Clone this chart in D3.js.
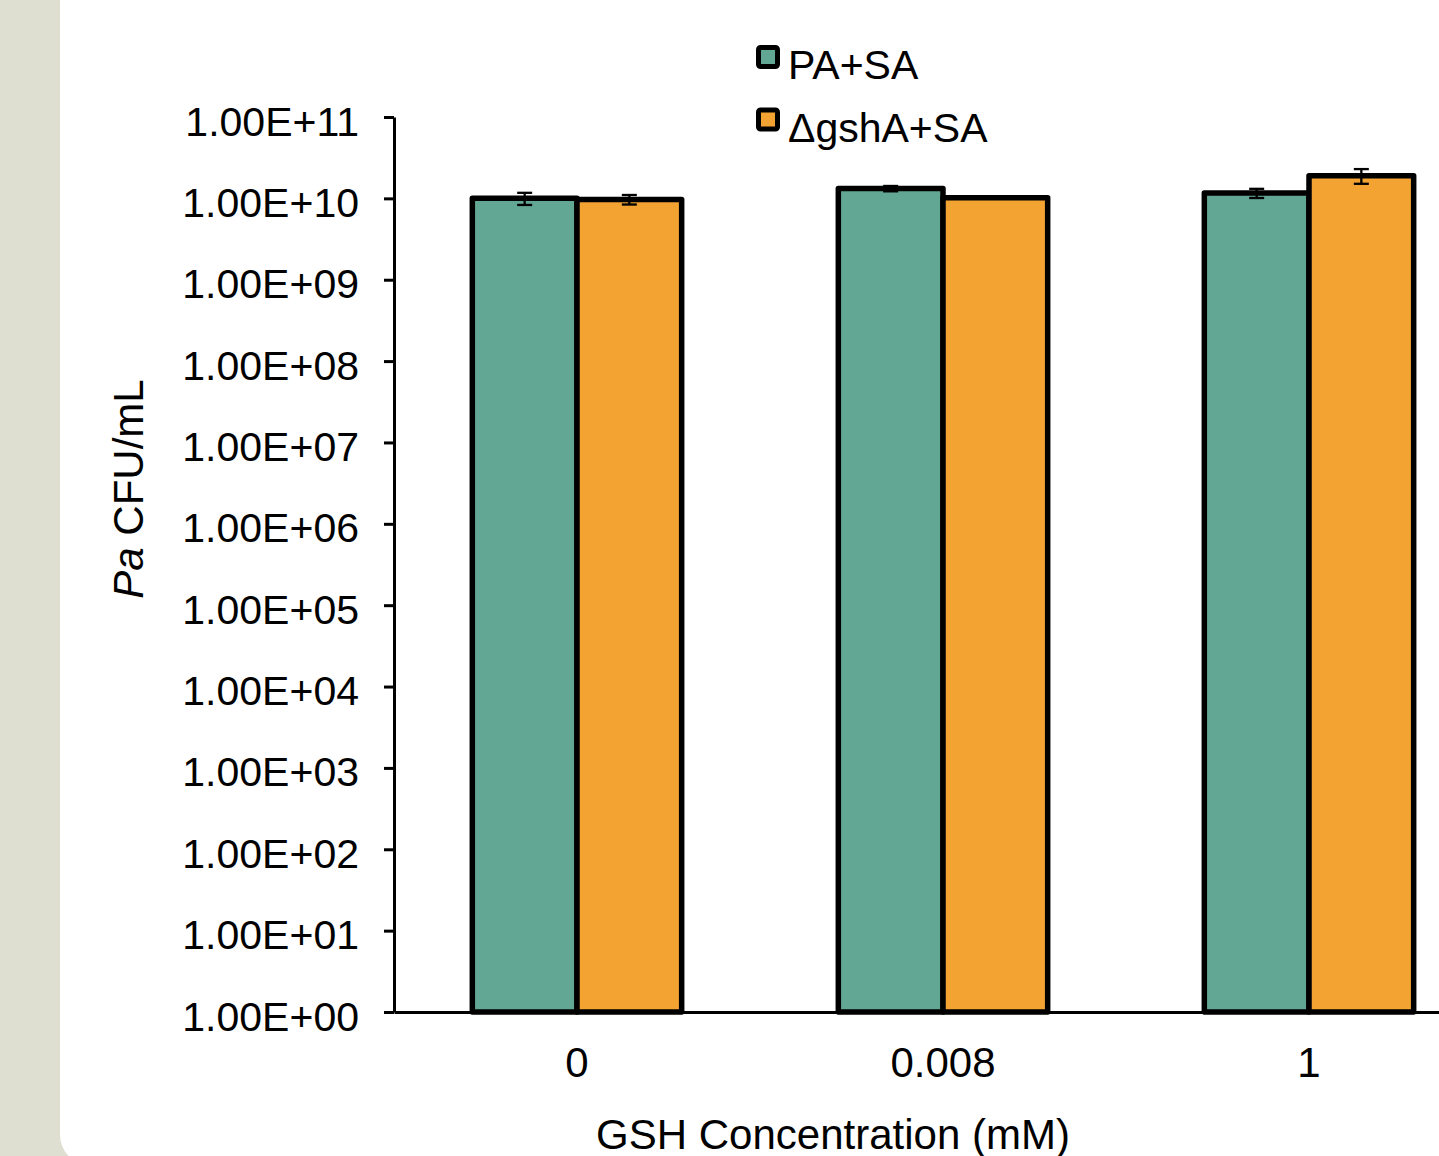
<!DOCTYPE html>
<html>
<head>
<meta charset="utf-8">
<script src="https://cdn.jsdelivr.net/npm/d3@7"></script>
<style>
  html, body { margin: 0; padding: 0; background: #dedfd0; }
  svg { display: block; font-family: "Liberation Sans", Arial, sans-serif; }
</style>
</head>
<body>
<div id="chart"></div>
<script>
// data
const categories = ['0', '0.008', '1'];
const seriesNames = ['PA+SA', '\u0394gshA+SA'];
const seriesColors = ['#61a794', '#f3a332'];
const paValues = [1.0e10, 1.32e10, 1.16e10];
const paErrors = [1.7e9, 1.0e9, 1.5e9];
const gshAValues = [9.7e9, 1.02e10, 1.9e10];
const gshAErrors = [1.3e9, 0.2e9, 3.9e9];
const yTicks = [1, 1e1, 1e2, 1e3, 1e4, 1e5, 1e6, 1e7, 1e8, 1e9, 1e10, 1e11];
const yTickLabels = ['1.00E+00', '1.00E+01', '1.00E+02', '1.00E+03', '1.00E+04', '1.00E+05',
  '1.00E+06', '1.00E+07', '1.00E+08', '1.00E+09', '1.00E+10', '1.00E+11'];

const W = 1439, H = 1156;
const axisX = 394, axisBottom = 1012, axisTop = 117;
const fontFam = '"Liberation Sans", Arial, sans-serif';

const svg = d3.select('#chart').append('svg')
  .attr('width', W)
  .attr('height', H);

// white panel with rounded corner over the grey page
svg.append('rect')
  .attr('x', 60).attr('y', -60)
  .attr('width', W + 60).attr('height', 1225)
  .attr('rx', 30)
  .attr('fill', '#fff');

const x = d3.scaleBand()
  .domain(categories)
  .range([axisX, axisX + 3 * 366])
  .paddingInner(0.428)
  .paddingOuter(0.214);

const xs = d3.scaleBand()
  .domain(seriesNames)
  .range([0, x.bandwidth()]);

const y = d3.scaleLog()
  .domain([1, 1e11])
  .range([axisBottom, axisTop]);

const rows = [];
categories.forEach((c, i) => {
  rows.push({ cat: c, s: seriesNames[0], v: paValues[i], e: paErrors[i], color: seriesColors[0] });
  rows.push({ cat: c, s: seriesNames[1], v: gshAValues[i], e: gshAErrors[i], color: seriesColors[1] });
});

// y axis
const yAxis = d3.axisLeft(y)
  .tickValues(yTicks)
  .tickFormat((d, i) => yTickLabels[i])
  .tickSize(10)
  .tickSizeOuter(0)
  .tickPadding(25);

const gy = svg.append('g')
  .attr('transform', `translate(${axisX},0)`)
  .call(yAxis);
gy.select('.domain').attr('stroke', '#000').attr('stroke-width', 3);
gy.selectAll('.tick line').attr('stroke', '#000').attr('stroke-width', 3);
gy.selectAll('.tick text')
  .attr('font-size', 41)
  .attr('font-family', fontFam)
  .attr('fill', '#000')
  .attr('dy', 18);

// bars
svg.append('g')
  .selectAll('rect')
  .data(rows)
  .enter().append('rect')
  .attr('x', d => x(d.cat) + xs(d.s))
  .attr('y', d => y(d.v))
  .attr('width', xs.bandwidth())
  .attr('height', d => axisBottom - y(d.v))
  .attr('fill', d => d.color)
  .attr('stroke', '#000')
  .attr('stroke-width', 5.5)
  .attr('stroke-linejoin', 'round');

// x axis
const xAxis = d3.axisBottom(x)
  .tickSize(0)
  .tickSizeOuter(0)
  .tickPadding(0);

const gx = svg.append('g')
  .attr('transform', `translate(0,${axisBottom})`)
  .call(xAxis);
gx.select('.domain').attr('stroke', '#000').attr('stroke-width', 3);
gx.selectAll('.tick text')
  .attr('font-size', 42)
  .attr('font-family', fontFam)
  .attr('fill', '#000')
  .attr('y', 65)
  .attr('dy', 0);

// error bars
const err = svg.append('g')
  .attr('stroke', '#000')
  .attr('stroke-width', 2.3);
rows.forEach(d => {
  const cx = x(d.cat) + xs(d.s) + xs.bandwidth() / 2;
  const y1 = y(d.v + d.e), y0 = y(d.v - d.e);
  err.append('line').attr('x1', cx).attr('x2', cx).attr('y1', y1).attr('y2', y0);
  err.append('line').attr('x1', cx - 7.5).attr('x2', cx + 7.5).attr('y1', y1).attr('y2', y1);
  err.append('line').attr('x1', cx - 7.5).attr('x2', cx + 7.5).attr('y1', y0).attr('y2', y0);
});

// axis titles
svg.append('text')
  .attr('transform', 'translate(143,489) rotate(-90)')
  .attr('text-anchor', 'middle')
  .attr('font-size', 42)
  .attr('fill', '#000')
  .call(t => {
    t.append('tspan').attr('font-style', 'italic').text('Pa');
    t.append('tspan').text(' CFU/mL');
  });

svg.append('text')
  .attr('x', 833)
  .attr('y', 1149)
  .attr('text-anchor', 'middle')
  .attr('font-size', 42)
  .attr('fill', '#000')
  .text('GSH Concentration (mM)');

// legend
const legend = svg.append('g')
  .selectAll('g')
  .data(seriesNames)
  .enter().append('g')
  .attr('transform', (d, i) => `translate(756,${45 + i * 62.5})`);
legend.append('rect')
  .attr('x', 2.5).attr('y', 2.5)
  .attr('width', 19).attr('height', 19)
  .attr('rx', 2)
  .attr('fill', (d, i) => seriesColors[i])
  .attr('stroke', '#000')
  .attr('stroke-width', 5);
legend.append('text')
  .attr('x', 32)
  .attr('y', 34)
  .attr('font-size', 41)
  .attr('fill', '#000')
  .text(d => d);
</script>
</body>
</html>
